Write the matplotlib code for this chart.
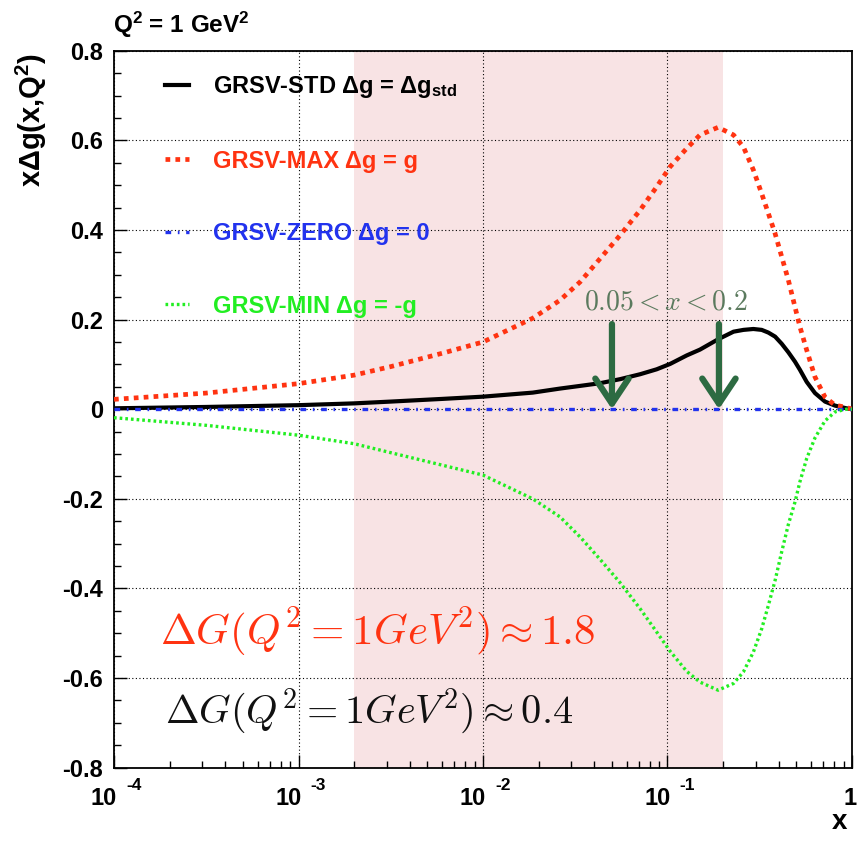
import matplotlib
matplotlib.use('Agg')
import matplotlib.pyplot as plt
from matplotlib.ticker import FixedLocator, LogLocator, MultipleLocator, NullFormatter

plt.rcParams['font.family'] = ['Liberation Sans', 'DejaVu Sans']
plt.rcParams['font.weight'] = 'bold'
plt.rcParams['mathtext.fontset'] = 'custom'
plt.rcParams['mathtext.rm'] = 'Liberation Sans:bold'
plt.rcParams['mathtext.bf'] = 'Liberation Sans:bold'
plt.rcParams['mathtext.it'] = 'Liberation Sans:bold'

# x points
x = [0.0001, 0.000316, 0.001, 0.002, 0.00316, 0.00603, 0.01, 0.0186,
     0.0261, 0.0336, 0.0431, 0.0553, 0.0710, 0.0873, 0.1033, 0.1271,
     0.150, 0.188, 0.228, 0.258, 0.292, 0.324, 0.352, 0.383, 0.416,
     0.452, 0.491, 0.522, 0.568, 0.630, 0.714, 0.809, 0.933, 1.0]

# GRSV-STD
g_std = [0.002, 0.005, 0.009, 0.013, 0.017, 0.023, 0.028, 0.037,
         0.046, 0.052, 0.058, 0.067, 0.078, 0.089, 0.101, 0.120,
         0.133, 0.156, 0.173, 0.177, 0.179, 0.177, 0.171, 0.162, 0.146,
         0.127, 0.106, 0.088, 0.061, 0.036, 0.017, 0.008, 0.002, 0.0]
# GRSV-MAX
g_max = [0.022, 0.036, 0.057, 0.076, 0.095, 0.125, 0.150, 0.203,
         0.243, 0.284, 0.336, 0.388, 0.444, 0.496, 0.541, 0.582,
         0.612, 0.629, 0.612, 0.585, 0.534, 0.481, 0.437, 0.392, 0.340,
         0.288, 0.228, 0.184, 0.132, 0.072, 0.027, 0.009, 0.004, 0.0]
# GRSV-ZERO
g_zero = [0.0] * len(x)
# GRSV-MIN
g_min = [-0.019, -0.036, -0.058, -0.077, -0.097, -0.125, -0.147, -0.200,
         -0.240, -0.285, -0.335, -0.387, -0.445, -0.497, -0.540, -0.585,
         -0.609, -0.627, -0.612, -0.586, -0.542, -0.490, -0.438, -0.382,
         -0.318, -0.257, -0.207, -0.162, -0.110, -0.064, -0.026, -0.006,
         0.0, 0.0]

band = (0.002, 0.2)
arrow_x = [0.05, 0.19]
arrow_top = 0.19

xtick_vals = [1e-4, 1e-3, 1e-2, 1e-1, 1.0]
xtick_exps = ['-4', '-3', '-2', '-1', None]
ytick_vals = [-0.8, -0.6, -0.4, -0.2, 0.0, 0.2, 0.4, 0.6, 0.8]
ytick_labels = ['-0.8', '-0.6', '-0.4', '-0.2', '0', '0.2', '0.4', '0.6', '0.8']

c_red = '#ff3311'
c_blue = '#2233ee'
c_green = '#22ee22'
c_arrow = '#2d6b42'

W, H = 858, 842
fig = plt.figure(figsize=(W / 100, H / 100), dpi=100)
ax = fig.add_axes([114 / W, 1 - 767.7 / H, 738 / W, 717 / H])

ax.set_xscale('log')
ax.set_xlim(1e-4, 1.0)
ax.set_ylim(-0.8, 0.8)

ax.axvspan(band[0], band[1], color='#f8e3e4', lw=0, zorder=0.2)

ax.xaxis.set_major_locator(FixedLocator(xtick_vals))
ax.xaxis.set_minor_locator(LogLocator(base=10, subs=range(2, 10), numticks=20))
ax.xaxis.set_major_formatter(NullFormatter())
ax.xaxis.set_minor_formatter(NullFormatter())
ax.yaxis.set_major_locator(FixedLocator(ytick_vals))
ax.yaxis.set_minor_locator(MultipleLocator(0.05))
ax.set_yticklabels(ytick_labels)

ax.tick_params(which='both', direction='in', top=False, right=False, width=1)
ax.tick_params(which='major', length=9.5, labelsize=17, pad=8)
ax.tick_params(which='minor', length=4.7)
for lab in ax.get_yticklabels():
    lab.set_fontweight('bold')

ax.grid(True, which='major', color='black', lw=0.8, linestyle=(0, (1, 2.2)))
ax.set_axisbelow(True)
for s in ax.spines.values():
    s.set_linewidth(1.3)

l_std, = ax.plot(x, g_std, color='black', lw=3.0, zorder=3,
                 label='GRSV-STD Δg = Δg$_{\\mathbf{std}}$')
l_max, = ax.plot(x, g_max, color=c_red, lw=3.4, linestyle=(0, (1.0, 1.1)),
                 zorder=3, label='GRSV-MAX Δg = g')
l_zero, = ax.plot(x, g_zero, color=c_blue, lw=2.4,
                  linestyle=(0, (1.7, 2.0, 0.5, 2.0)), zorder=3,
                  label='GRSV-ZERO Δg = 0')
l_min, = ax.plot(x, g_min, color=c_green, lw=2.4, linestyle=(0, (0.8, 0.9)),
                 zorder=3, label='GRSV-MIN Δg = -g')

leg = ax.legend(handles=[l_std, l_max, l_zero, l_min], loc='upper left',
                bbox_to_anchor=(51 / 738, 1 - (74 - 50.7) / 717),
                frameon=False, borderpad=0, borderaxespad=0,
                handlelength=1.0, handletextpad=1.05, labelspacing=2.1,
                prop={'size': 17, 'weight': 'bold'},
                labelcolor=['black', c_red, c_blue, c_green])

# x tick labels in ROOT style
for xv, ex in zip(xtick_vals, xtick_exps):
    if ex is None:
        ax.annotate('1', xy=(xv, 0), xycoords=('data', 'axes fraction'),
                    xytext=(-2, -31), textcoords='offset pixels',
                    ha='center', va='center', fontsize=17, fontweight='bold')
    else:
        ax.annotate('10', xy=(xv, 0), xycoords=('data', 'axes fraction'),
                    xytext=(-10, -31), textcoords='offset pixels',
                    ha='center', va='center', fontsize=17, fontweight='bold')
        ax.annotate(ex, xy=(xv, 0), xycoords=('data', 'axes fraction'),
                    xytext=(20, -18), textcoords='offset pixels',
                    ha='center', va='center', fontsize=12.5, fontweight='bold')

ax.set_xlabel('x', fontsize=20, fontweight='bold', loc='right')
ax.xaxis.set_label_coords(0.993, -0.058)
ax.xaxis.label.set_va('top')
ax.set_ylabel('xΔg(x,Q$^{2}$)', fontsize=21, fontweight='bold', loc='top')
ax.yaxis.set_label_coords(-0.112, 0.997)
ax.yaxis.label.set_va('center')

fig.text(113 / W, 1 - 33 / H, 'Q$^{2}$ = 1 GeV$^{2}$', fontsize=17.5,
         fontweight='bold', ha='left', va='baseline')

# arrows marking 0.05 < x < 0.2
for xa in arrow_x:
    ax.annotate('', xy=(xa, 0.0), xytext=(xa, arrow_top),
                arrowprops=dict(arrowstyle='->,head_length=1.8,head_width=1.2',
                                lw=4.5, color=c_arrow, shrinkA=0, shrinkB=0,
                                mutation_scale=10),
                zorder=4)
fig.text(666 / W, 1 - 303 / H, r'$0.05 < x < 0.2$', fontsize=20,
         color='#5b7a5e', ha='center', va='center', math_fontfamily='cm')

fig.text(160 / W, 1 - 645 / H, r'$\Delta G(Q^2 = 1 GeV^2) \approx 1.8$',
         fontsize=31, color=c_red, ha='left', va='baseline',
         math_fontfamily='cm')
fig.text(165 / W, 1 - 723 / H, r'$\Delta G(Q^2 = 1 GeV^2) \approx 0.4$',
         fontsize=29, color='#111111', ha='left', va='baseline',
         math_fontfamily='cm')

fig.savefig('out.png', dpi=100)
